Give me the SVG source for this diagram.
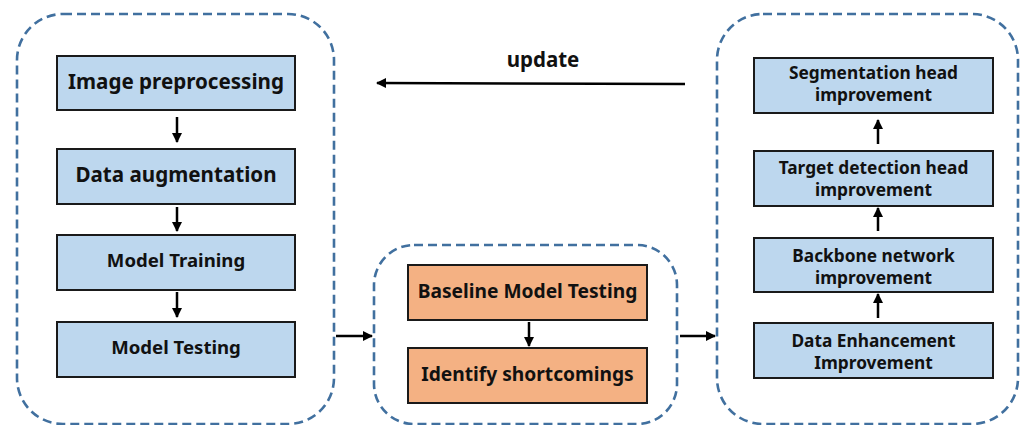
<svg xmlns="http://www.w3.org/2000/svg" width="1024" height="425" viewBox="0 0 1024 425">
  <defs>
    <style>
      .group { fill: none; stroke: #41709f; stroke-width: 2.6; stroke-dasharray: 9 5; }
      .step { fill: #bdd7ee; stroke: #1a1a1a; stroke-width: 2; }
      .probe { fill: #f4b183; stroke: #1a1a1a; stroke-width: 2; }
      text { font-family: "Noto Sans", "Open Sans", "DejaVu Sans", sans-serif; font-weight: bold; fill: #111; text-anchor: middle; }
      .big { font-size: 20.6px; }
      .mid { font-size: 18.6px; }
      .cen { font-size: 19.2px; }
      .sm { font-size: 17.3px; }
      .upd { font-size: 20.5px; }
      .link { stroke: #000; stroke-width: 2.5; fill: none; }
    </style>
    <marker id="headL" viewBox="0 0 10 10" refX="9" refY="5" markerWidth="10" markerHeight="10" orient="auto" markerUnits="userSpaceOnUse">
      <path d="M0,0 L10,5 L0,10 z" fill="#000"/>
    </marker>
  </defs>
  <rect width="1024" height="425" fill="#fff"/>

  <!-- dashed stage containers -->
  <rect class="group" x="17" y="14" width="317" height="410" rx="46" ry="46"/>
  <rect class="group" x="374" y="245" width="303" height="179" rx="40" ry="40"/>
  <rect class="group" x="717" y="14" width="301" height="410" rx="46" ry="46"/>

  <!-- stage 1: training pipeline -->
  <g id="image-preprocessing">
    <rect class="step" x="57" y="56" width="238" height="54"/>
    <text class="big" x="176" y="89">Image preprocessing</text>
  </g>
  <g id="data-augmentation">
    <rect class="step" x="57" y="149" width="238" height="55"/>
    <text class="big" x="176" y="182">Data augmentation</text>
  </g>
  <g id="model-training">
    <rect class="step" x="57" y="235" width="238" height="55"/>
    <text class="mid" x="176" y="267">Model Training</text>
  </g>
  <g id="model-testing">
    <rect class="step" x="57" y="322" width="238" height="55"/>
    <text class="mid" x="176" y="354">Model Testing</text>
  </g>

  <!-- stage 2: baseline evaluation -->
  <g id="baseline-model-testing">
    <rect class="probe" x="408" y="265" width="239" height="55"/>
    <text class="cen" x="527.5" y="298">Baseline Model Testing</text>
  </g>
  <g id="identify-shortcomings">
    <rect class="probe" x="408" y="348" width="239" height="55"/>
    <text class="cen" x="527.5" y="381">Identify shortcomings</text>
  </g>

  <!-- stage 3: improvements -->
  <g id="segmentation-head">
    <rect class="step" x="754" y="58" width="239" height="55"/>
    <text class="sm" x="873.5" y="79">Segmentation head</text>
    <text class="sm" x="873.5" y="101">improvement</text>
  </g>
  <g id="detection-head">
    <rect class="step" x="754" y="151" width="239" height="55"/>
    <text class="sm" x="873.5" y="174">Target detection head</text>
    <text class="sm" x="873.5" y="196">improvement</text>
  </g>
  <g id="backbone">
    <rect class="step" x="754" y="238" width="239" height="54"/>
    <text class="sm" x="873.5" y="262">Backbone network</text>
    <text class="sm" x="873.5" y="284">improvement</text>
  </g>
  <g id="data-enhancement">
    <rect class="step" x="754" y="323" width="239" height="55"/>
    <text class="sm" x="873.5" y="347">Data Enhancement</text>
    <text class="sm" x="873.5" y="369">Improvement</text>
  </g>

  <!-- connectors -->
  <g id="connectors">
    <line class="link" x1="177" y1="117" x2="177" y2="142" marker-end="url(#headL)"/>
    <line class="link" x1="177" y1="207" x2="177" y2="231" marker-end="url(#headL)"/>
    <line class="link" x1="177" y1="292" x2="177" y2="317" marker-end="url(#headL)"/>
    <line class="link" x1="529" y1="322" x2="529" y2="346" marker-end="url(#headL)"/>
    <line class="link" x1="878" y1="144" x2="878" y2="120" marker-end="url(#headL)"/>
    <line class="link" x1="878" y1="231" x2="878" y2="208" marker-end="url(#headL)"/>
    <line class="link" x1="878" y1="318" x2="878" y2="294" marker-end="url(#headL)"/>
    <line class="link" x1="336" y1="336" x2="372" y2="336" marker-end="url(#headL)"/>
    <line class="link" x1="680" y1="336" x2="715" y2="336" marker-end="url(#headL)"/>
    <line class="link" x1="685" y1="84" x2="377" y2="83" marker-end="url(#headL)"/>
    <text class="upd" x="543" y="67">update</text>
  </g>
</svg>
